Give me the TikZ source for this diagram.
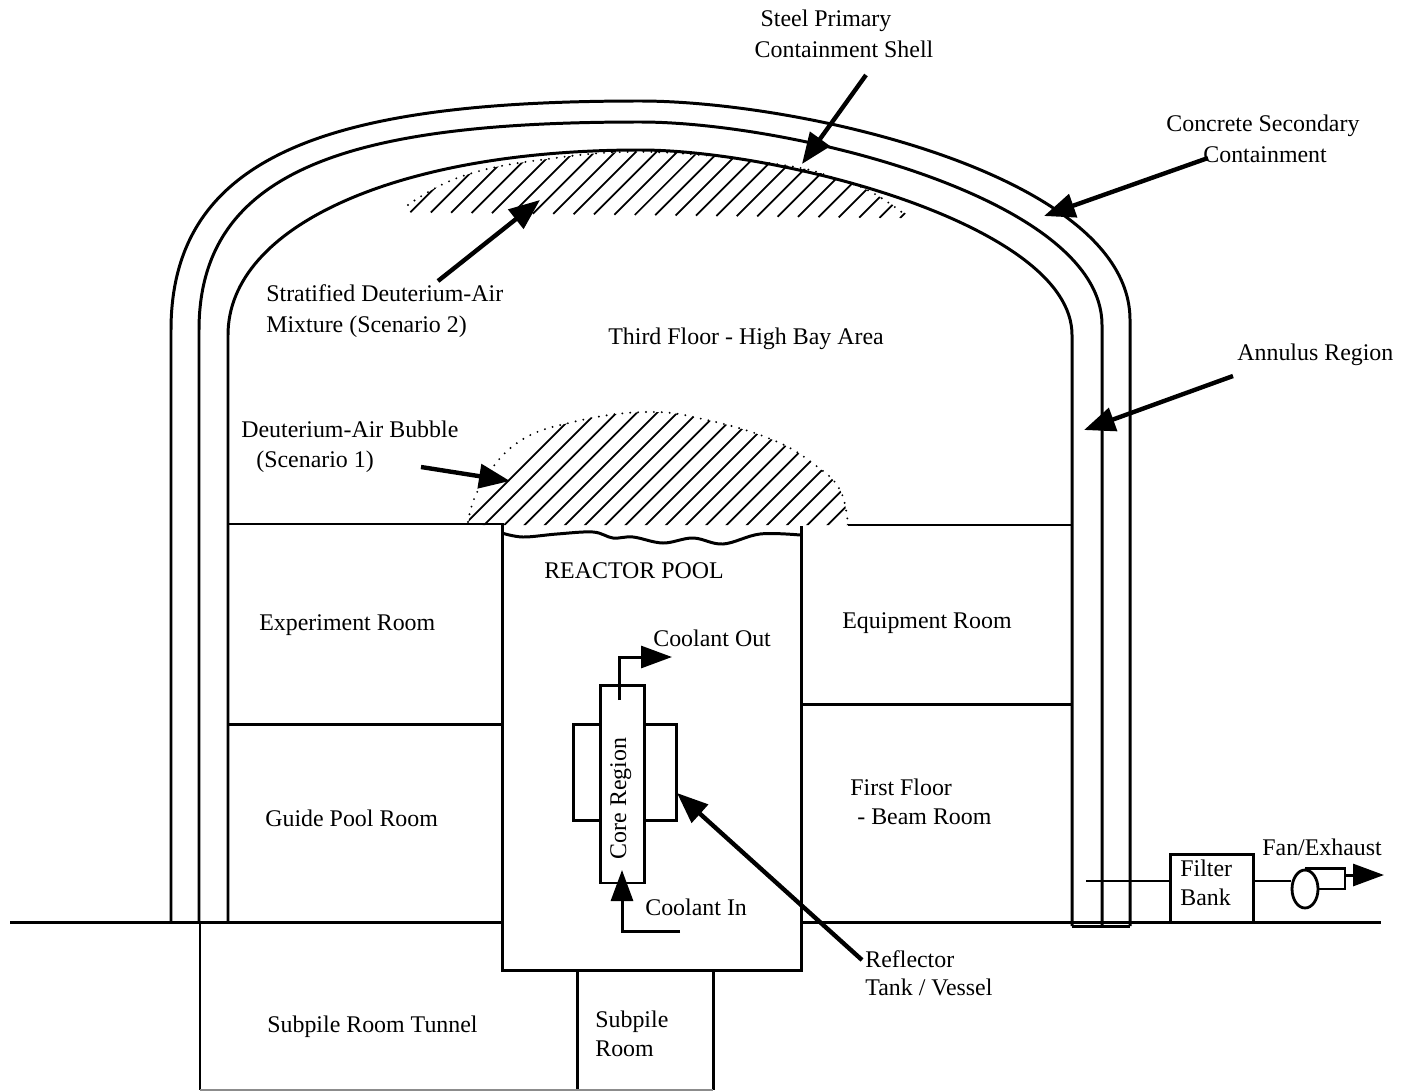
\documentclass[tikz,border=0pt]{standalone}
\usepackage{fontspec}
\setmainfont{Liberation Serif}
\usetikzlibrary{arrows.meta,positioning,shapes.geometric,calc}

\begin{document}
\begin{tikzpicture}[x=0.02cm,y=-0.02cm,
  wall/.style={line width=1.7pt},
  pipe/.style={line width=1.6pt},
  lbl/.style={inner sep=0pt,anchor=west,yshift=-2pt,text height=0.68em,text depth=0.2em,font=\fontsize{13.6}{15}\selectfont},
  ptr/.style={line width=2.5pt,-{Triangle[length=0.62cm,width=0.48cm]}},
  flow/.style={line width=1.7pt,-{Triangle[length=0.62cm,width=0.44cm]}},
  hatchline/.style={line width=1pt},
  dome/.style={line width=1.2pt,line cap=round,dash pattern=on 0pt off 4.5pt}]
  \useasboundingbox (0,0) rectangle (1408,1091);
  % containment shells
  \draw[wall] (171,921) -- (171,330) .. controls (171,150) and (340,101) .. (640,101) .. controls (800,101) and (1130,175) .. (1130,320) -- (1130,926);
  \draw[wall] (199,921) -- (199,330) .. controls (199,165) and (360,122) .. (640,122) .. controls (790,122) and (1102,198) .. (1102,325) -- (1102,926);
  \draw[wall] (228,921) -- (228,335) .. controls (228,225) and (400,150) .. (640,150) .. controls (780,150) and (1072,225) .. (1072,335) -- (1072,926);
  \draw[wall] (1072,926) -- (1130,926);
  % ground and rooms
  \draw[wall] (10,922) -- (502,922);
  \draw[wall] (801,922) -- (1381,922);
  \draw[wall] (228,524) -- (502,524) -- (502,970) -- (803,970);
  \draw[wall] (801,526) -- (801,970);
  \draw[wall] (848,525) -- (1072,525);
  \draw[wall] (228,724) -- (502,724);
  \draw[wall] (801,704) -- (1072,704);
  \draw[wall] (200,922) -- (200,1090);
  \draw[wall] (577,970) -- (577,1090);
  \draw[wall] (713,970) -- (713,1090);
  \draw[line width=0.7pt,black!45] (200,1090) -- (713,1090);
  \draw[wall] plot[smooth,tension=0.6] coordinates {(502,533) (523,537) (557,534) (593,532) (613,538) (633,537) (663,543) (693,538) (723,544) (760,534) (800,535)};
  % deuterium-air bubble
  \begin{scope}
    \clip plot[smooth,tension=0.7] coordinates {(468,525) (480,487) (517,443) (573,422) (647,412) (707,420) (773,440) (815,465) (840,490) (848,525)} -- cycle;
    \foreach \xa in {0,...,36}
      \draw[hatchline] ({462+20.2*\xa},527) -- ++(125,-125);
  \end{scope}
  \draw[dome] plot[smooth,tension=0.7] coordinates {(468,522) (480,487) (517,443) (573,422) (647,412) (707,420) (773,440) (815,465) (840,490) (848,525)};
  % stratified mixture
  \begin{scope}
    \clip plot[smooth,tension=0.7] coordinates {(408,205) (460,177) (540,160) (650,152) (783,165) (840,180) (873,193) (912,218)} -- (408,218) -- cycle;
    \foreach \xa in {0,...,25}
      \draw[hatchline] ({390+20.4*\xa},{212+0.012*20.4*\xa}) -- ++(70,-70);
  \end{scope}
  \draw[dome] plot[smooth,tension=0.7] coordinates {(408,205) (460,177) (540,160) (650,152) (783,165) (840,180) (873,193) (907,216)};
  % core and reflector
  \draw[wall] (600,724) -- (573,724) -- (573,820) -- (600,820);
  \draw[wall] (643,724) -- (676,724) -- (676,820) -- (643,820);
  \node[draw,wall,minimum width=0.88cm,minimum height=3.96cm,inner sep=0pt] (core) at (622,784) {};
  \node[lbl,anchor=center,rotate=90] (coretxt) at (622,795) {Core Region};
  % labels
  \node[lbl,anchor=center] (steel) at (826,19) {Steel Primary};
  \node[lbl,anchor=center] (steelb) at (844,50) {Containment Shell};
  \node[lbl] (concrete) at (1166,124) {Concrete Secondary};
  \node[lbl] (concreteb) at (1203,155) {Containment};
  \node[lbl] (annulus) at (1237,353) {Annulus Region};
  \node[lbl] (strat) at (266,294) {Stratified Deuterium-Air};
  \node[lbl] (stratb) at (266,325) {Mixture (Scenario 2)};
  \node[lbl,anchor=center] (third) at (746,337) {Third Floor - High Bay Area};
  \node[lbl] (bubble) at (241,430) {Deuterium-Air Bubble};
  \node[lbl] (bubbleb) at (256,460) {(Scenario 1)};
  \node[lbl,anchor=center] (pool) at (634,571) {REACTOR POOL};
  \node[lbl] (expt) at (259,623) {Experiment Room};
  \node[lbl] (equip) at (842,621) {Equipment Room};
  \node[lbl] (guide) at (265,819) {Guide Pool Room};
  \node[lbl] (first) at (850,788) {First Floor};
  \node[lbl] (beam) at (857,817) {- Beam Room};
  \node[lbl] (out) at (653,639) {Coolant Out};
  \node[lbl] (in) at (645,908) {Coolant In};
  \node[lbl] (refl) at (865,960) {Reflector};
  \node[lbl] (reflb) at (865,988) {Tank / Vessel};
  \node[lbl] (tunnel) at (267,1025) {Subpile Room Tunnel};
  \node[lbl] (subpile) at (595,1020) {Subpile};
  \node[lbl] (subpileb) at (595,1049) {Room};
  \node[lbl] (fantxt) at (1262,848) {Fan/Exhaust};
  % pointers
  \coordinate (steeltail) at (866,75);
  \coordinate (steeltip) at (802,164);
  \coordinate (concretetail) at (1208,158);
  \coordinate (concretetip) at (1044,216);
  \coordinate (annulustail) at (1233,376);
  \coordinate (annulustip) at (1084,430);
  \coordinate (strattail) at (438,281);
  \coordinate (strattip) at (540,200);
  \coordinate (bubbletail) at (421,467);
  \coordinate (bubbletip) at (510,481);
  \coordinate (refltail) at (862,960);
  \coordinate (refltip) at (677,793);
  \draw[ptr] (steeltail) -- (steeltip);
  \draw[ptr] (concretetail) -- (concretetip);
  \draw[ptr] (annulustail) -- (annulustip);
  \draw[ptr] (strattail) -- (strattip);
  \draw[ptr] (bubbletail) -- (bubbletip);
  \draw[ptr] (refltail) -- (refltip);
  % coolant
  \coordinate (outstart) at (619,700);
  \coordinate (outtip) at (672,657);
  \coordinate (instart) at (680,931);
  \coordinate (intip) at (622,870);
  \draw[flow] (outstart) |- (outtip);
  \draw[flow] (instart) -| (intip);
  % filter and fan
  \node[draw,wall,minimum width=1.66cm,minimum height=1.36cm,inner sep=0pt] (filter) at (1211.5,888) {};
  \node[lbl] (filtera) at (1180,869) {Filter};
  \node[lbl] (filterb) at (1180,898) {Bank};
  \node[draw,pipe,ellipse,minimum width=0.52cm,minimum height=0.76cm,inner sep=0pt] (fan) at (1305,889) {};
  \coordinate (duct) at (1345,889);
  \coordinate (pipestart) at (1086,881);
  \coordinate (exhausttip) at (1384,875);
  \draw[pipe] (fan.north) -| (duct) -- (fan.east);
  \draw[pipe] (pipestart) -- (filter.west |- pipestart);
  \draw[pipe] (filter.east |- pipestart) -- (fan.west |- pipestart);
  \draw[flow] (duct |- exhausttip) -- (exhausttip);
\end{tikzpicture}
\end{document}
